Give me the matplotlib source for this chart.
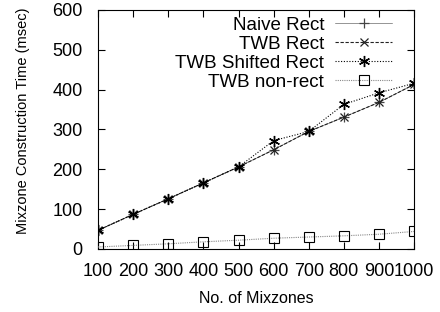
import matplotlib
matplotlib.use('Agg')
import matplotlib.pyplot as plt

plt.rcParams['font.family'] = 'Liberation Sans'

# 데이터
mixzones = [100, 200, 300, 400, 500, 600, 700, 800, 900, 1000]
naive_rect = [47, 87, 126, 166, 206, 249, 295, 331, 368, 413]
twb_rect = [47, 87, 126, 166, 206, 249, 295, 331, 368, 413]
twb_shifted = [47, 87, 126, 166, 206, 272, 295, 363, 392, 416]
twb_nonrect = [5, 9, 13, 18, 22, 27, 30, 33, 37, 44]

fig = plt.figure(figsize=(4.4, 3.12), dpi=100)
ax = fig.add_axes([0.223, 0.202, 0.718, 0.766])

ax.plot(mixzones, naive_rect, color='#444444', linestyle='-', linewidth=0.4,
        marker='+', markersize=7, markeredgewidth=0.9, label='Naive Rect', zorder=1)
ax.plot(mixzones, twb_rect, color='#222222', linestyle=(0, (3, 1.5)), linewidth=0.8,
        marker='x', markersize=6, markeredgewidth=0.9, label='TWB Rect', zorder=2)
ax.plot(mixzones, twb_shifted, color='black', linestyle=(0, (1, 1.5)), linewidth=0.8,
        marker=(6, 2, 0), markersize=8, markeredgewidth=1.0, label='TWB Shifted Rect', zorder=3)
ax.plot(mixzones, twb_nonrect, color='#888888', linestyle=(0, (1, 1)), linewidth=0.8,
        marker='s', markersize=7, markerfacecolor='none', markeredgecolor='black',
        markeredgewidth=0.8, label='TWB non-rect', zorder=3)

ax.set_xlim(100, 1000)
ax.set_ylim(0, 600)
ax.set_xticks(mixzones)
ax.set_yticks([0, 100, 200, 300, 400, 500, 600])
ax.tick_params(direction='in', top=True, right=True, labelsize=13, length=5)
ax.tick_params(axis='y', pad=11)
ax.tick_params(axis='x', pad=10)
ax.set_xlabel('No. of Mixzones', fontsize=11.5, labelpad=8)
ax.set_ylabel('Mixzone Construction Time (msec)', fontsize=10.5)
ax.yaxis.set_label_coords(-0.215, 0.535)

ax.legend(loc='upper right', frameon=False, markerfirst=False, fontsize=13.5,
          handlelength=3.0, labelspacing=0.1, borderaxespad=0.0, borderpad=0.35,
          handletextpad=0.6, bbox_to_anchor=(0.95, 1.0))

plt.savefig('out.png', dpi=100)
